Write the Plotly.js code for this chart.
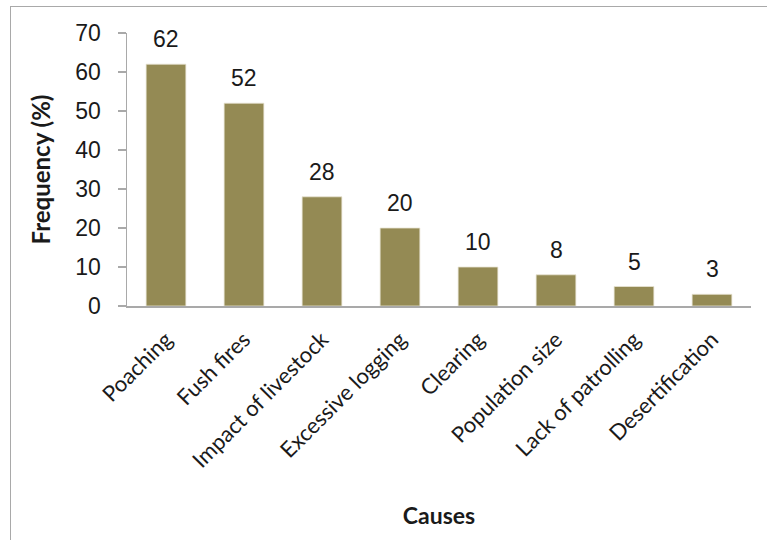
<!DOCTYPE html>
<html>
<head>
<meta charset="utf-8">
<script src="https://cdn.plot.ly/plotly-3.0.1.min.js"></script>
<style>
html,body{margin:0;padding:0;background:#fff;}
#frame{position:absolute;left:10px;top:6px;width:800px;height:600px;border-left:1.5px solid #a9a9a9;border-top:1.5px solid #a9a9a9;}
#chart{position:absolute;left:0;top:0;width:767px;height:540px;}
</style>
</head>
<body>
<div id="frame"></div>
<div id="chart"></div>
<script>
const causes = ["Poaching","Fush fires","Impact of livestock","Excessive logging","Clearing","Population size","Lack of patrolling","Desertification"];
const frequency = [62,52,28,20,10,8,5,3];
const yTicks = [0,10,20,30,40,50,60,70];

const trace = {
  type: "bar",
  x: causes,
  y: frequency,
  marker: {color: "#948A54", line: {color: "#e8e4d4", width: 0.8}},
  hoverinfo: "x+y"
};

const annotations = causes.map((c, i) => ({
  x: c, y: frequency[i], xref: "x", yref: "y",
  text: String(frequency[i]), showarrow: false,
  yanchor: "middle", yshift: 25,
  font: {family: "Liberation Sans, Arial, sans-serif", size: 23, color: "#1a1a1a"}
}));

const layout = {
  width: 767, height: 540,
  margin: {l: 127, r: 16, t: 33, b: 234},
  paper_bgcolor: "rgba(0,0,0,0)",
  plot_bgcolor: "rgba(0,0,0,0)",
  bargap: 0.49,
  showlegend: false,
  xaxis: {
    type: "category",
    tickangle: -45,
    ticks: "",
    ticklabelstandoff: 10,
    showline: true, linecolor: "#a9a9a9", linewidth: 2,
    tickfont: {family: "Lato, Open Sans, sans-serif", size: 22, color: "#1a1a1a"},
    title: {text: "<b>Causes</b>", font: {family: "Lato, Open Sans, sans-serif", size: 23, color: "#1a1a1a"}, standoff: 36},
    automargin: false
  },
  yaxis: {
    range: [0, 70],
    tickvals: yTicks,
    ticks: "outside", ticklen: 8, tickcolor: "#a9a9a9", tickwidth: 1.5,
    ticklabelstandoff: 12,
    showgrid: false, zeroline: false,
    showline: true, linecolor: "#a9a9a9", linewidth: 1.5,
    tickfont: {family: "Liberation Sans, Arial, sans-serif", size: 23, color: "#1a1a1a"},
    title: {text: "<b>Frequency (%)</b>", font: {family: "Lato, Open Sans, sans-serif", size: 24, color: "#1a1a1a"}, standoff: 18},
    automargin: false
  },
  annotations: annotations
};

Plotly.newPlot("chart", [trace], layout, {displayModeBar: false, staticPlot: true});
</script>
</body>
</html>
